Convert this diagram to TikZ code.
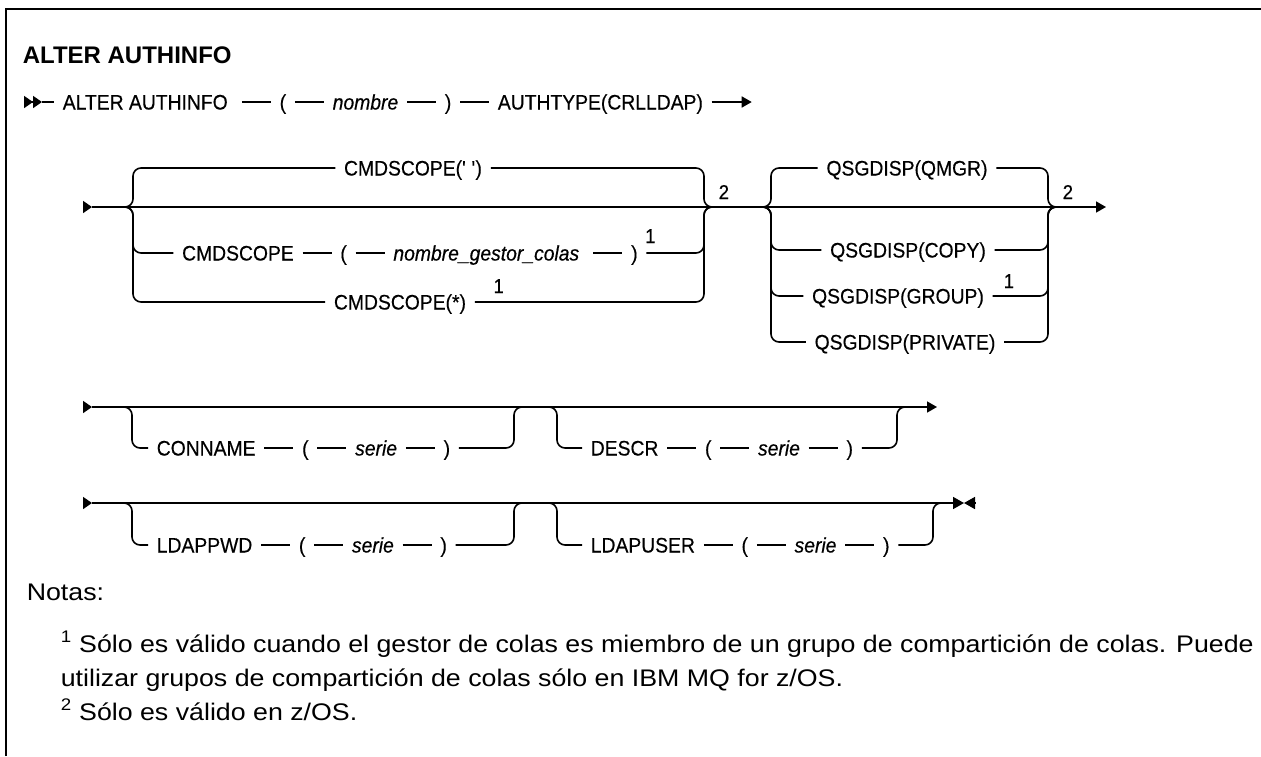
\documentclass[tikz,border=0pt]{standalone}
\usepackage{fontspec}
\setmainfont{Liberation Sans}
\newfontfamily\synfont[FakeStretch=0.92,FakeBold=0.4]{Liberation Sans}
\newfontfamily\notefont[FakeStretch=1.115]{Liberation Sans}
\usetikzlibrary{arrows.meta,positioning}

\begin{document}
\begin{tikzpicture}[x=1pt,y=-1pt,line width=1.6pt,node distance=29pt,
  tok/.style={font=\synfont\fontsize{21}{25}\selectfont,inner xsep=8pt,inner ysep=0pt,text height=15pt,text depth=0pt},
  var/.style={tok,font=\synfont\itshape\fontsize{21}{25}\selectfont},
  fn/.style={font=\synfont\fontsize{20}{22}\selectfont,inner sep=0pt,anchor=base west},
  branch/.style={rounded corners=8pt},
  startmark/.style={-{Triangle[length=9pt,width=12pt]}},
  endtip/.style={-{Triangle[length=10pt,width=11pt]}},
  note/.style={font=\notefont\fontsize{24}{30}\selectfont,anchor=base west,inner sep=0pt}
]
\useasboundingbox (0,0) rectangle (1261,756);
\draw[line width=2pt] (6,756) -- (6,9) -- (1261,9);

\node[font=\bfseries\fontsize{24}{28}\selectfont,anchor=base west,inner sep=0pt] (head) at (22,63) {ALTER AUTHINFO};

% first line
\coordinate (r1a) at (24,102);
\coordinate (r1b) at (42,102);
\node[tok,anchor=west] (alter) at (54,102) {ALTER AUTHINFO\ \ };
\node[tok,right=of alter] (lp1) {(};
\node[var,right=of lp1] (nombre) {nombre};
\node[tok,right=of nombre] (rp1) {)};
\node[tok,right=of rp1] (authtype) {AUTHTYPE(CRLLDAP)\ };
\coordinate[right=40pt of authtype] (r1e);
\draw[-{Triangle[length=9pt,width=12pt]Triangle[length=9pt,width=12pt]}] (r1a) -- (r1b);
\draw (r1b) -- (alter) -- (lp1) -- (nombre) -- (rp1) -- (authtype);
\draw[endtip] (authtype) -- (r1e);

% CMDSCOPE / QSGDISP
\coordinate (r2a) at (83,207);
\coordinate (r2b) at (92,207);
\coordinate (r2e) at (1106,207);
\draw[startmark] (r2a) -- (r2b);
\draw[endtip] (r2b) -- (r2e);

\coordinate (c1a) at (125,207);
\coordinate (c1b) at (133,207);
\coordinate (c1c) at (704,207);
\coordinate (c1d) at (712,207);
\node[tok] (cmdblank) at (413,168) {CMDSCOPE(\textquotesingle\ \textquotesingle)};
\node[var] (qmgrname) at (489,253) {nombre\_gestor\_colas\ \ };
\node[tok,left=of qmgrname] (lp2) {(};
\node[tok,left=of lp2] (cmds) {CMDSCOPE};
\node[tok,right=of qmgrname] (rp2) {)};
\node[fn] (fn1a) at ([xshift=-2pt]rp2.east |- 0,243) {1};
\node[tok] (cmdall) at (400,302) {CMDSCOPE(*)};
\node[fn] (fn1b) at ([xshift=18pt]cmdall.east |- 0,293) {1};
\draw[branch] (c1a) -- (c1b) |- (cmdblank);
\draw[branch] (cmdblank) -| (c1c) -- (c1d);
\draw[branch] (c1a) -- (c1b) |- (cmds);
\draw (cmds) -- (lp2) -- (qmgrname) -- (rp2);
\draw[branch] (rp2) -| (c1c) -- (c1d);
\draw[branch] (c1a) -- (c1b) |- (cmdall);
\draw[branch] (cmdall) -| (c1c) -- (c1d);
\node[fn] (fn2a) at (718,199) {2};

\coordinate (q1a) at (763,207);
\coordinate (q1b) at (771,207);
\coordinate (q1c) at (1048,207);
\coordinate (q1d) at (1056,207);
\node[tok] (qmgr) at (907,168) {QSGDISP(QMGR)};
\node[tok] (copy) at (908,250) {QSGDISP(COPY)};
\node[tok] (group) at (898,296) {QSGDISP(GROUP)};
\node[tok] (private) at (905,342) {QSGDISP(PRIVATE)};
\node[fn] (fn1c) at (1003,288) {1};
\foreach \b in {qmgr,copy,group,private} {
  \draw[branch] (q1a) -- (q1b) |- (\b);
  \draw[branch] (\b) -| (q1c) -- (q1d);
}
\node[fn] (fn2b) at (1062,199) {2};

% CONNAME / DESCR
\coordinate (r3a) at (83,407);
\coordinate (r3b) at (92,407);
\coordinate (r3e) at (937,407);
\draw[startmark] (r3a) -- (r3b);
\draw[endtip] (r3b) -- (r3e);
\coordinate (k1a) at (124,407);
\coordinate (k1b) at (132,407);
\coordinate (k1c) at (514,407);
\coordinate (k1d) at (522,407);
\node[tok,anchor=west] (conname) at (148,448) {CONNAME};
\node[tok,right=of conname] (lp3) {(};
\node[var,right=of lp3] (serie1) {serie};
\node[tok,right=of serie1] (rp3) {)};
\draw[branch] (k1a) -- (k1b) |- (conname);
\draw (conname) -- (lp3) -- (serie1) -- (rp3);
\draw[branch] (rp3) -| (k1c) -- (k1d);
\coordinate (k2a) at (549,407);
\coordinate (k2b) at (557,407);
\coordinate (k2c) at (897,407);
\coordinate (k2d) at (905,407);
\node[tok,anchor=west] (descr) at (582,448) {DESCR};
\node[tok,right=of descr] (lp4) {(};
\node[var,right=of lp4] (serie2) {serie};
\node[tok,right=of serie2] (rp4) {)};
\draw[branch] (k2a) -- (k2b) |- (descr);
\draw (descr) -- (lp4) -- (serie2) -- (rp4);
\draw[branch] (rp4) -| (k2c) -- (k2d);

% LDAPPWD / LDAPUSER
\coordinate (r4a) at (83,503);
\coordinate (r4b) at (92,503);
\coordinate (r4e) at (964,503);
\coordinate (r4f) at (975,503);
\draw[startmark] (r4a) -- (r4b);
\draw[-{Triangle[length=11pt,width=12pt]}] (r4b) -- (r4e);
\draw[-{Triangle[length=11pt,width=12pt]}] (r4f) -- (r4e);
\coordinate (p1a) at (124,503);
\coordinate (p1b) at (132,503);
\coordinate (p1c) at (514,503);
\coordinate (p1d) at (522,503);
\node[tok,anchor=west] (ldappwd) at (148,545) {LDAPPWD};
\node[tok,right=of ldappwd] (lp5) {(};
\node[var,right=of lp5] (serie3) {serie};
\node[tok,right=of serie3] (rp5) {)};
\draw[branch] (p1a) -- (p1b) |- (ldappwd);
\draw (ldappwd) -- (lp5) -- (serie3) -- (rp5);
\draw[branch] (rp5) -| (p1c) -- (p1d);
\coordinate (p2a) at (549,503);
\coordinate (p2b) at (557,503);
\coordinate (p2c) at (933,503);
\coordinate (p2d) at (941,503);
\node[tok,anchor=west] (ldapuser) at (582,545) {LDAPUSER};
\node[tok,right=of ldapuser] (lp6) {(};
\node[var,right=of lp6] (serie4) {serie};
\node[tok,right=of serie4] (rp6) {)};
\draw[branch] (p2a) -- (p2b) |- (ldapuser);
\draw (ldapuser) -- (lp6) -- (serie4) -- (rp6);
\draw[branch] (rp6) -| (p2c) -- (p2d);

% notes
\node[note] (notas) at (26,600) {Notas:};
\node[note] (n1a) at (60,652) {\textsuperscript{1} Sólo es válido cuando el gestor de colas es miembro de un grupo de compartición de colas. Puede};
\node[note] (n1b) at (60,686) {utilizar grupos de compartición de colas sólo en IBM MQ for z/OS.};
\node[note] (n2) at (60,720) {\textsuperscript{2} Sólo es válido en z/OS.};
\end{tikzpicture}
\end{document}
